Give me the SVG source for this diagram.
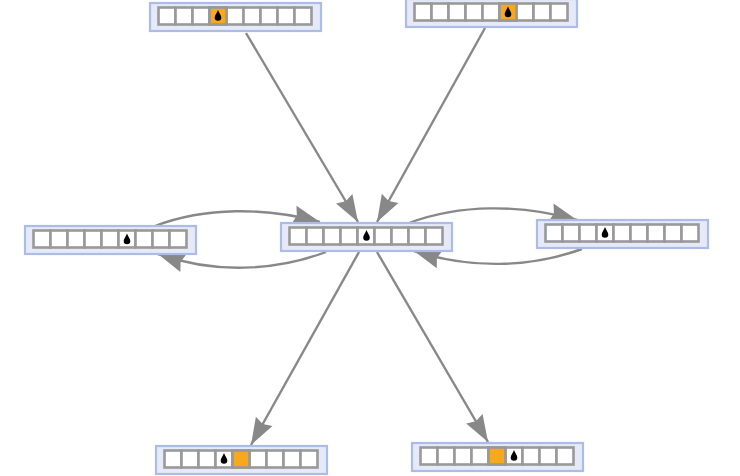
<svg xmlns="http://www.w3.org/2000/svg" width="740" height="476" viewBox="0 0 740 476">
<style>
.box{fill:#e6e9f7;stroke:#abbce9;stroke-width:2.2}
.cell{fill:#fff;stroke:#999;stroke-width:2.6}
.on{fill:#f7a81b}
.edge{fill:none;stroke:#888;stroke-width:2.4;marker-end:url(#arrow)}
</style>
<defs>
<marker id="arrow" markerUnits="userSpaceOnUse" markerWidth="32" markerHeight="24" refX="28" refY="12" orient="auto">
<path d="M1,2.5 L28,12 L1,21.5 L4,12 Z" fill="#888"/>
</marker>
<path id="drop" d="M0,-5.6 C0.9,-2.8 3.3,-0.6 3.3,2 A3.3,3.3 0 0 1 -3.3,2 C-3.3,-0.6 -0.9,-2.8 0,-5.6 Z" fill="#000"/>
<g id="grid">
<rect class="box" x="0" y="0" width="171" height="28"/>
<rect class="cell" x="8.5" y="4.5" width="17" height="17"/>
<rect class="cell" x="25.5" y="4.5" width="17" height="17"/>
<rect class="cell" x="42.5" y="4.5" width="17" height="17"/>
<rect class="cell" x="59.5" y="4.5" width="17" height="17"/>
<rect class="cell" x="76.5" y="4.5" width="17" height="17"/>
<rect class="cell" x="93.5" y="4.5" width="17" height="17"/>
<rect class="cell" x="110.5" y="4.5" width="17" height="17"/>
<rect class="cell" x="127.5" y="4.5" width="17" height="17"/>
<rect class="cell" x="144.5" y="4.5" width="17" height="17"/>
</g>
</defs>
<g id="connectors">
<path class="edge" d="M246,33 L358,222"/>
<path class="edge" d="M485,28 L377,222"/>
<path class="edge" d="M359,252 L251,445"/>
<path class="edge" d="M377,252 L488,442"/>
<path class="edge" d="M155,226 C205,207 265,207 320,222"/>
<path class="edge" d="M326,252 C275,271 215,274 158,254"/>
<path class="edge" d="M409,223 C460,204 520,204 577,220"/>
<path class="edge" d="M582,249 C530,268 470,269 414,251"/>
</g>
<g id="node-top-left" transform="translate(150,3)">
<use href="#grid"/>
<rect class="cell on" x="59.5" y="4.5" width="17" height="17"/>
<use href="#drop" x="68" y="12.5"/>
</g>
<g id="node-top-right" transform="translate(406,-1)">
<use href="#grid"/>
<rect class="cell on" x="93.5" y="4.5" width="17" height="17"/>
<use href="#drop" x="102" y="13"/>
</g>
<g id="node-center" transform="translate(281,223)">
<use href="#grid"/>
<use href="#drop" x="85.5" y="12.5"/>
</g>
<g id="node-left" transform="translate(25,226)">
<use href="#grid"/>
<use href="#drop" x="102" y="13"/>
</g>
<g id="node-right" transform="translate(537,220)">
<use href="#grid"/>
<use href="#drop" x="68" y="12.5"/>
</g>
<g id="node-bottom-left" transform="translate(156,446)">
<use href="#grid"/>
<rect class="cell on" x="76.5" y="4.5" width="17" height="17"/>
<use href="#drop" x="68" y="12.5"/>
</g>
<g id="node-bottom-right" transform="translate(412,443)">
<use href="#grid"/>
<rect class="cell on" x="76.5" y="4.5" width="17" height="17"/>
<use href="#drop" x="102" y="12.5"/>
</g>
</svg>
